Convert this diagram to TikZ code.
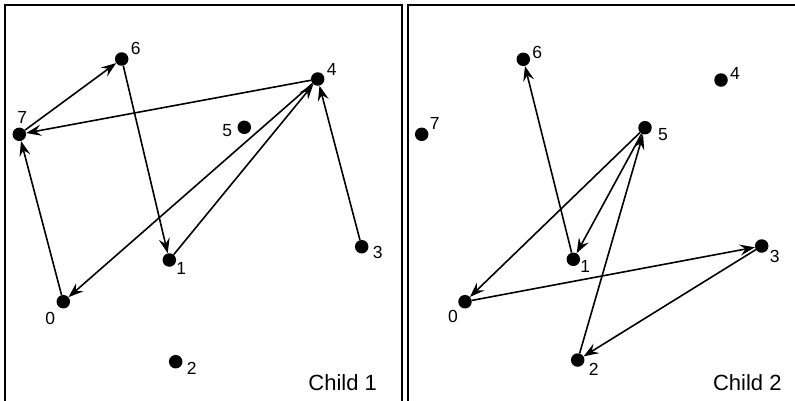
\documentclass[tikz,border=0pt]{standalone}
\usepackage{fontspec}
\setmainfont{Liberation Sans}
\usetikzlibrary{arrows.meta}

\begin{document}
\begin{tikzpicture}[x=1pt, y=-1pt, >={Stealth[length=15pt,width=11pt,inset=5.5pt]}, font=\fontsize{17.5}{17.5}\selectfont]
\tikzset{city/.style={circle, fill=black, inner sep=0pt, minimum size=13.5pt}, tour/.style={->, line width=1.6pt}, panel/.style={draw, line width=1.8pt}, tag/.style={font=\fontsize{22}{22}\selectfont}}
\useasboundingbox (0,0) rectangle (795,400);
% two panels, cut off at the bottom
\draw[panel] (5,5) rectangle (402,420);
\draw[panel] (408,5) rectangle (805,420);
% child 1
\node[city, label={[shift={(-13,17)}]center:0}] (p0) at (63.3,301.7) {};
\node[city, label={[shift={(12,8)}]center:1}] (p1) at (169.3,260) {};
\node[city, label={[shift={(16,7)}]center:2}] (p2) at (175.7,361.7) {};
\node[city, label={[shift={(16,6)}]center:3}] (p3) at (361.7,246.7) {};
\node[city, label={[shift={(14,-10)}]center:4}] (p4) at (317.7,79) {};
\node[city, label={[shift={(-17,3)}]center:5}] (p5) at (244.3,127.3) {};
\node[city, label={[shift={(14,-11)}]center:6}] (p6) at (121.7,59) {};
\node[city, label={[shift={(3,-17)}]center:7}] (p7) at (19.3,134.3) {};
\node[tag] (c1) at (342.7,382.7) {Child 1};
\foreach \a/\b in {0/7,7/6,6/1,1/4,4/0,4/7,3/4} \draw[tour] (p\a)--(p\b);
% child 2
\node[city, label={[shift={(-12,15)}]center:0}] (q0) at (465,301.7) {};
\node[city, label={[shift={(12,7)}]center:1}] (q1) at (573.3,259.3) {};
\node[city, label={[shift={(16,9)}]center:2}] (q2) at (577.7,360) {};
\node[city, label={[shift={(13,10)}]center:3}] (q3) at (761.7,246) {};
\node[city, label={[shift={(14,-7)}]center:4}] (q4) at (721,80) {};
\node[city, label={[shift={(18,7)}]center:5}] (q5) at (645,127.7) {};
\node[city, label={[shift={(14,-7)}]center:6}] (q6) at (523.3,59.3) {};
\node[city, label={[shift={(13,-11)}]center:7}] (q7) at (421.7,134.3) {};
\node[tag] (c2) at (747.3,382.7) {Child 2};
\foreach \a/\b in {0/3,3/2,2/5,5/0,5/1,1/6} \draw[tour] (q\a)--(q\b);
\end{tikzpicture}
\end{document}
